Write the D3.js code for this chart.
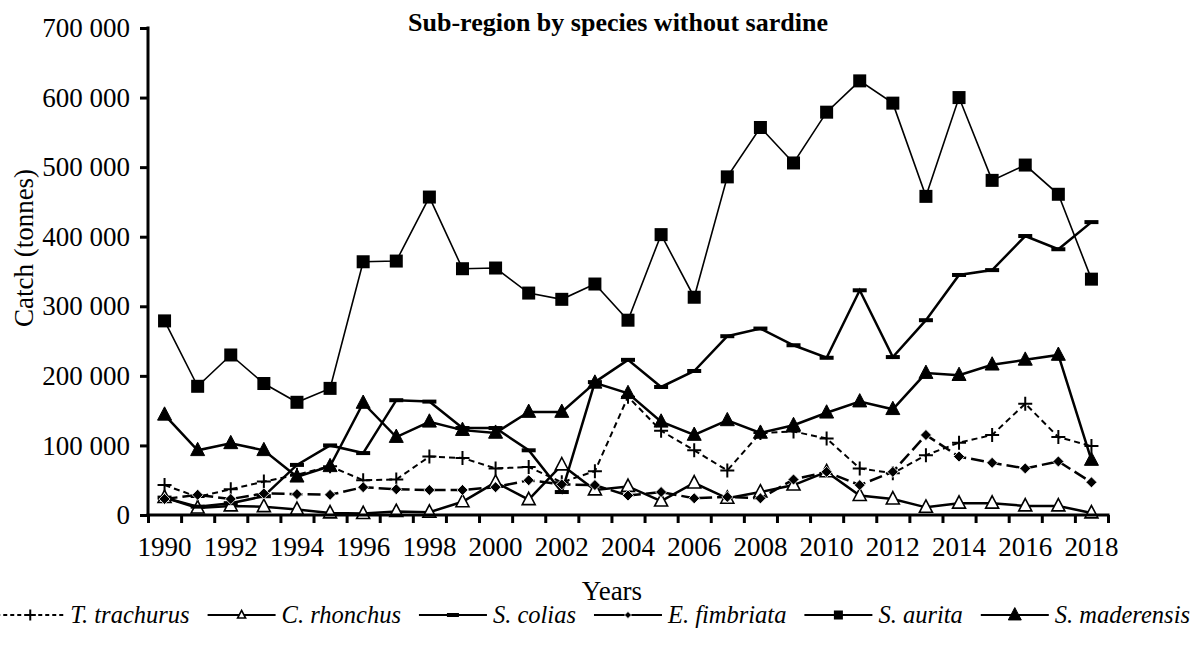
<!DOCTYPE html>
<html>
<head>
<meta charset="utf-8">
<script src="https://cdn.jsdelivr.net/npm/d3@7"></script>
<style>
  body { margin: 0; background: #fff; }
  svg { display: block; font-family: "Liberation Serif", "Times New Roman", serif; }
</style>
</head>
<body>
<svg id="chart" width="1204" height="646"></svg>
<script>
const YEARS = d3.range(1990, 2019);
const Y_TICKS = [0, 100000, 200000, 300000, 400000, 500000, 600000, 700000];

// catches in tonnes
const T_TRACHURUS = [43000, 26000, 37000, 48000, 58000, 70000, 50000, 51000, 84000, 82000, 67000, 69000, 47000, 63000, 170000, 121000, 93000, 64000, 118000, 120000, 110000, 67000, 60000, 86000, 104000, 115000, 160000, 112000, 99000];
const C_RHONCHUS = [25000, 10000, 13000, 12000, 8000, 3000, 2000, 5000, 4000, 19000, 47000, 22000, 72000, 36000, 41000, 20000, 46000, 24000, 33000, 43000, 62000, 28000, 23000, 11000, 17000, 17000, 13000, 13000, 3000];
const S_COLIAS = [25000, 12000, 17000, 27000, 72000, 100000, 89000, 165000, 163000, 125000, 125000, 93000, 33000, 191000, 223000, 184000, 207000, 257000, 268000, 244000, 226000, 323000, 227000, 280000, 345000, 352000, 401000, 382000, 421000];
const E_FIMBRIATA = [23000, 29000, 23000, 31000, 30000, 29000, 40000, 37000, 36000, 36000, 40000, 50000, 44000, 43000, 28000, 33000, 24000, 26000, 24000, 51000, 62000, 43000, 62000, 115000, 84000, 75000, 67000, 77000, 47000];
const S_AURITA = [279000, 185000, 230000, 189000, 162000, 182000, 364000, 365000, 457000, 354000, 355000, 319000, 310000, 332000, 280000, 403000, 313000, 486000, 557000, 506000, 579000, 624000, 592000, 458000, 600000, 481000, 503000, 461000, 339000];
const S_MADERENSIS = [144000, 93000, 103000, 93000, 55000, 70000, 161000, 112000, 134000, 122000, 118000, 148000, 148000, 190000, 175000, 134000, 115000, 136000, 118000, 129000, 147000, 163000, 152000, 204000, 201000, 216000, 223000, 230000, 79000];

const SERIES = [
  { name: 'T. trachurus', values: T_TRACHURUS, marker: 'plus', dash: '6,4', width: 2 },
  { name: 'C. rhonchus', values: C_RHONCHUS, marker: 'openTri', dash: null, width: 2.5 },
  { name: 'S. colias', values: S_COLIAS, marker: 'bar', dash: null, width: 2.5 },
  { name: 'E. fimbriata', values: E_FIMBRIATA, marker: 'diamond', dash: '13,5', width: 2.5 },
  { name: 'S. aurita', values: S_AURITA, marker: 'square', dash: null, width: 1.6 },
  { name: 'S. maderensis', values: S_MADERENSIS, marker: 'tri', dash: null, width: 2.5 }
];

const svg = d3.select('#chart');
const plotL = 148, plotR = 1108, plotT = 28, plotB = 515;

const x = d3.scaleBand().domain(YEARS).range([plotL, plotR]).padding(0);
const xEdge = d3.scaleLinear().domain([0, YEARS.length]).range([plotL, plotR]);
const y = d3.scaleLinear().domain([0, 700000]).range([plotB, plotT]);
const cx = yr => x(yr) + x.bandwidth() / 2;

const locale = d3.formatLocale({ decimal: '.', thousands: ' ', grouping: [3], currency: ['', ''] });
const fmt = locale.format(',');

const drawMarker = (g, type, size) => {
  const s = size;
  if (type === 'square') {
    g.append('rect').attr('x', -s / 2).attr('y', -s / 2).attr('width', s).attr('height', s).attr('fill', '#000');
  } else if (type === 'tri' || type === 'openTri') {
    const h = s * 0.95;
    g.append('path')
      .attr('d', `M0,${-h * 0.6}L${s / 2},${h * 0.4}L${-s / 2},${h * 0.4}Z`)
      .attr('fill', type === 'tri' ? '#000' : '#fff')
      .attr('stroke', '#000')
      .attr('stroke-width', type === 'tri' ? 1 : 1.6);
  } else if (type === 'diamond') {
    g.append('path')
      .attr('d', `M0,${-s / 2}L${s / 2},0L0,${s / 2}L${-s / 2},0Z`)
      .attr('fill', '#000').attr('stroke', '#fff').attr('stroke-width', 0.8);
  } else if (type === 'bar') {
    g.append('rect').attr('x', -s / 2).attr('y', -2).attr('width', s).attr('height', 4).attr('fill', '#000');
  } else if (type === 'plus') {
    g.append('path')
      .attr('d', `M${-s / 2},0H${s / 2}M0,${-s / 2}V${s / 2}`)
      .attr('stroke', '#000').attr('stroke-width', 2).attr('fill', 'none');
  }
};

const MARKER_SIZE = { square: 13, tri: 14, openTri: 13, diamond: 11, bar: 14, plus: 14 };
const LEGEND_MARKER = { square: 9, tri: 13, openTri: 8, diamond: 7, bar: 12, plus: 11 };

// series
const line = d3.line().x((d, i) => cx(YEARS[i])).y(d => y(d));
SERIES.forEach(s => {
  svg.append('path')
    .attr('d', line(s.values))
    .attr('fill', 'none')
    .attr('stroke', '#000')
    .attr('stroke-width', s.width)
    .attr('stroke-dasharray', s.dash);
  s.values.forEach((v, i) => {
    const g = svg.append('g').attr('transform', `translate(${cx(YEARS[i])},${y(v)})`);
    drawMarker(g, s.marker, MARKER_SIZE[s.marker]);
  });
});

// axes
const yAxis = svg.append('g')
  .attr('transform', `translate(${plotL},0)`)
  .call(d3.axisLeft(y).tickValues(Y_TICKS).tickFormat(fmt).tickSize(8).tickPadding(10));
const xTicks = svg.append('g')
  .attr('transform', `translate(0,${plotB})`)
  .call(d3.axisBottom(xEdge).tickValues(d3.range(0, YEARS.length + 1)).tickFormat('').tickSize(8));
const xLabels = svg.append('g')
  .attr('transform', `translate(0,${plotB})`)
  .call(d3.axisBottom(x).tickValues(YEARS.filter(d => d % 2 === 0)).tickSize(0).tickPadding(22));
xLabels.select('.domain').remove();

[yAxis, xTicks].forEach(a => {
  a.select('.domain').attr('stroke-width', 3);
  a.selectAll('.tick line').attr('stroke-width', 3);
});
yAxis.select('.domain').attr('d', `M0,${plotT - 1.5}V${plotB + 1.5}`);
xTicks.select('.domain').attr('d', `M${plotL - 1.5},0H${plotR + 1.5}`);

svg.selectAll('.tick text')
  .attr('font-family', '"Liberation Serif", "Times New Roman", serif')
  .attr('font-size', 27)
  .attr('fill', '#000');

// titles
svg.append('text')
  .attr('x', 618).attr('y', 31)
  .attr('text-anchor', 'middle')
  .attr('font-size', 26).attr('font-weight', 'bold')
  .text('Sub-region by species without sardine');

svg.append('text')
  .attr('transform', 'translate(33,248) rotate(-90)')
  .attr('text-anchor', 'middle')
  .attr('font-size', 27)
  .text('Catch (tonnes)');

svg.append('text')
  .attr('x', 612).attr('y', 600)
  .attr('text-anchor', 'middle')
  .attr('font-size', 27)
  .text('Years');

// legend
const legend = svg.append('g');
const sampleW = 68, textGap = 6, itemGap = 18;
let lx = 0;
const items = SERIES.map(s => {
  const g = legend.append('g');
  g.append('line')
    .attr('x1', 0).attr('x2', sampleW).attr('y1', 0).attr('y2', 0)
    .attr('stroke', '#000').attr('stroke-width', 2)
    .attr('stroke-dasharray', s.marker === 'plus' ? '4,3' : null);
  const mg = g.append('g').attr('transform', `translate(${sampleW / 2},0)`);
  drawMarker(mg, s.marker, LEGEND_MARKER[s.marker]);
  const t = g.append('text')
    .attr('x', sampleW + textGap).attr('y', 8)
    .attr('font-size', 24.5).attr('font-style', 'italic')
    .text(s.name);
  const w = sampleW + textGap + t.node().getComputedTextLength();
  const item = { g, x: lx };
  lx += w + itemGap;
  return item;
});
const total = lx - itemGap;
const start = 1190 - total;
items.forEach(it => it.g.attr('transform', `translate(${start + it.x},615)`));
</script>
</body>
</html>
